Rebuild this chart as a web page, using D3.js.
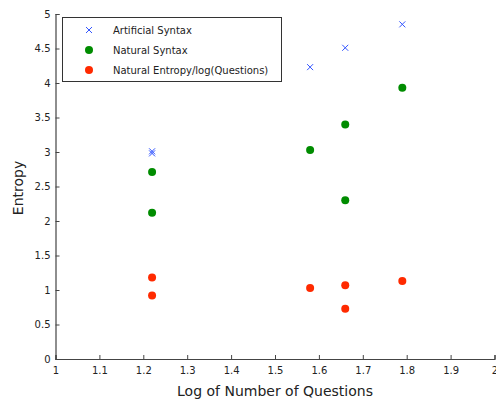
<!DOCTYPE html>
<html><head><meta charset="utf-8">
<script src="https://cdn.jsdelivr.net/npm/d3@7"></script>
<style>body{margin:0;background:#fff}svg{display:block}text{font-family:"DejaVu Sans",sans-serif}</style>
</head><body><svg id="c" width="496" height="403"></svg>
<script>
const artificialX = [1.22, 1.22, 1.58, 1.66, 1.79];
const artificialY = [3.01, 2.98, 4.23, 4.51, 4.85];
const naturalX = [1.22, 1.22, 1.58, 1.66, 1.66, 1.79];
const naturalY = [2.71, 2.12, 3.03, 3.40, 2.30, 3.93];
const ratioX = [1.22, 1.22, 1.58, 1.66, 1.66, 1.79];
const ratioY = [1.18, 0.92, 1.03, 1.07, 0.73, 1.13];
const xTicks = [1, 1.1, 1.2, 1.3, 1.4, 1.5, 1.6, 1.7, 1.8, 1.9, 2];
const yTicks = [0, 0.5, 1, 1.5, 2, 2.5, 3, 3.5, 4, 4.5, 5];
const seriesNames = ["Artificial Syntax", "Natural Syntax", "Natural Entropy/log(Questions)"];

const svg = d3.select("#c");
const x = d3.scaleLinear().domain([1, 2]).range([55.5, 494.5]);
const y = d3.scaleLinear().domain([0, 5]).range([359, 14]);
const axisColor = "#444";

const xa = svg.append("g").attr("transform", "translate(0,359)")
  .call(d3.axisBottom(x).tickValues(xTicks).tickSize(-4).tickPadding(8).tickFormat(d3.format("")));
const ya = svg.append("g").attr("transform", "translate(55.5,0)")
  .call(d3.axisLeft(y).tickValues(yTicks).tickSize(-4).tickPadding(5).tickFormat(d3.format("")));
[xa, ya].forEach(g => {
  g.select(".domain").attr("stroke", axisColor).attr("stroke-width", 1.2);
  g.selectAll(".tick line").attr("stroke", axisColor);
  g.selectAll(".tick text").attr("fill", "#222").style("font-size", "10px").style("font-family", "DejaVu Sans, sans-serif");
});

svg.append("text").attr("x", 275).attr("y", 396).attr("text-anchor", "middle")
  .style("font-size", "14px").attr("fill", "#222").text("Log of Number of Questions");
svg.append("text").attr("transform", "translate(23,188) rotate(-90)").attr("text-anchor", "middle")
  .style("font-size", "14px").attr("fill", "#222").text("Entropy");

const blue = "#3355ff", green = "#008c00", red = "#ff2a00";
function cross(g, cx, cy) {
  const s = 3;
  g.append("path").attr("d", `M${cx-s},${cy-s}L${cx+s},${cy+s}M${cx-s},${cy+s}L${cx+s},${cy-s}`)
    .attr("stroke", blue).attr("stroke-width", 1).attr("fill", "none");
}
const pts = svg.append("g");
artificialX.forEach((v, i) => cross(pts, x(v), y(artificialY[i])));
pts.selectAll(".g").data(naturalX).enter().append("circle")
  .attr("cx", d => x(d)).attr("cy", (d, i) => y(naturalY[i])).attr("r", 4).attr("fill", green);
pts.selectAll(".r").data(ratioX).enter().append("circle")
  .attr("cx", d => x(d)).attr("cy", (d, i) => y(ratioY[i])).attr("r", 4).attr("fill", red);

// legend
const lg = svg.append("g");
lg.append("rect").attr("x", 62.5).attr("y", 17.5).attr("width", 219).attr("height", 64)
  .attr("fill", "#fff").attr("stroke", "#333").attr("stroke-width", 1);
const ly = [30, 50, 70];
cross(lg, 89, ly[0]);
lg.append("circle").attr("cx", 89).attr("cy", ly[1]).attr("r", 4).attr("fill", green);
lg.append("circle").attr("cx", 89).attr("cy", ly[2]).attr("r", 4).attr("fill", red);
seriesNames.forEach((n, i) => {
  lg.append("text").attr("x", 113).attr("y", ly[i] + 4).style("font-size", "10px").attr("fill", "#222").text(n);
});
</script></body></html>
